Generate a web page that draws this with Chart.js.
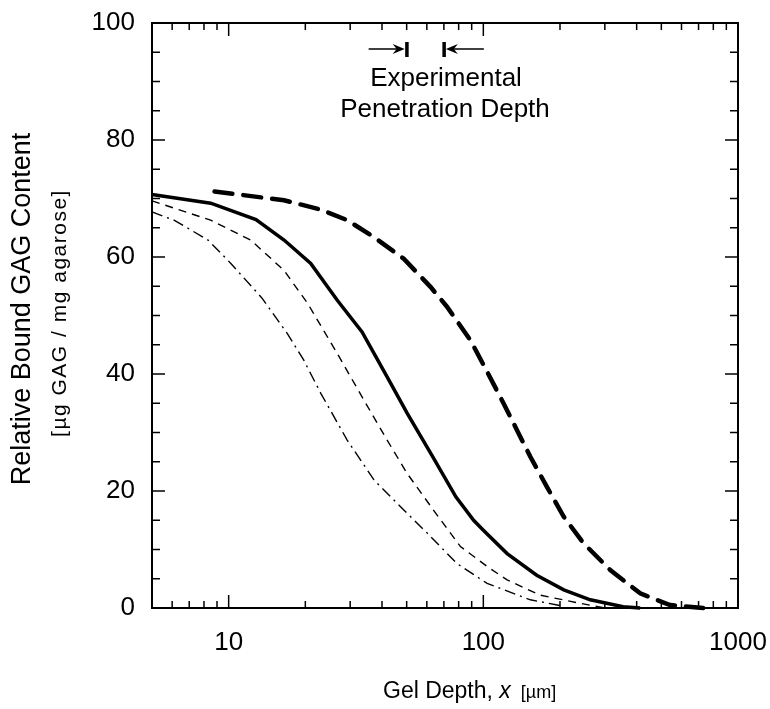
<!DOCTYPE html>
<html>
<head>
<meta charset="utf-8">
<script src="https://cdn.jsdelivr.net/npm/chart.js@4.4.1/dist/chart.umd.min.js"></script>
<style>
  html, body { margin: 0; padding: 0; background: #fff; }
  canvas { display: block; }
</style>
</head>
<body>
<canvas id="gagChart" width="770" height="709"></canvas>
<script>
// Bound GAG profiles vs gel depth (log x)

// thick solid curve
var solidX = [5, 8.5, 12.8, 16.5, 21, 26.7, 33.4, 41.9, 50.2, 63, 78, 91.6, 100, 124, 162, 207, 263, 354, 413];
var solidY = [70.7, 69.2, 66.4, 62.9, 58.9, 52.6, 47.2, 39.5, 33.3, 26, 19, 15.0, 13.3, 9.3, 5.6, 3.1, 1.4, 0.2, 0];

// thick dashed curve
var thickDashX = [8.8, 16.5, 23, 29.2, 37.2, 48.7, 62, 72, 88.9, 103.5, 120, 135.6, 152.8, 177.7, 207, 247, 315, 413, 541, 730];
var thickDashY = [71.2, 69.7, 68.1, 66.3, 63.4, 59.7, 54.9, 51.5, 45.8, 40.4, 35.0, 30.4, 25.9, 20.7, 15.6, 11.1, 6.5, 2.5, 0.5, 0];

// thin dashed curve
var thinDashX = [5, 8.5, 12.2, 16.5, 20.4, 26.7, 34, 41.9, 50.2, 63.8, 81.3, 103.5, 124, 167, 240, 300];
var thinDashY = [69.6, 66.3, 62.9, 57.7, 52.1, 43.5, 35.5, 28.7, 23.0, 16.7, 10.5, 7.1, 4.8, 2.2, 0.8, 0];

// dash-dot curve
var dashDotX = [5, 6.1, 8.3, 10.2, 13.5, 17, 19.7, 23, 29.2, 37.2, 47.3, 60.2, 78.8, 103.5, 153, 207];
var dashDotY = [67.7, 66.3, 62.9, 58.9, 53, 46.9, 42.4, 36.7, 28.7, 21.9, 17.3, 12.8, 7.6, 4.2, 1.4, 0.3];

var xTickValues = [10, 100, 1000];
var xRange = [5, 1000];
var yRange = [0, 100];
var penetrationDepth = [50, 70];

var FONT = '"Liberation Sans", Arial, sans-serif';

function toPoints(xs, ys) {
    var pts = [];
    for (var i = 0; i < xs.length; i++) {
        pts.push({ x: xs[i], y: ys[i] });
    }
    return pts;
}

function seg(ctx, x1, y1, x2, y2) {
    ctx.beginPath();
    ctx.moveTo(x1, y1);
    ctx.lineTo(x2, y2);
    ctx.stroke();
}

// frame + inward ticks on all four sides
var frameTicks = {
    id: 'frameTicks',
    afterDatasetsDraw: function(chart) {
        var ctx = chart.ctx;
        var a = chart.chartArea;
        var xs = chart.scales.x;
        var ys = chart.scales.y;
        ctx.save();
        ctx.strokeStyle = '#000';
        ctx.lineWidth = 1.5;

        for (var v = yRange[0]; v <= yRange[1]; v += 5) {
            var py = ys.getPixelForValue(v);
            var len = (v % 20 === 0) ? 13 : 8;
            seg(ctx, a.left, py, a.left + len, py);
            seg(ctx, a.right, py, a.right - len, py);
        }

        for (var k = 0; k <= 3; k++) {
            for (var m = 1; m <= 9; m++) {
                var val = m * Math.pow(10, k);
                if (val < xRange[0] || val > xRange[1]) continue;
                var px = xs.getPixelForValue(val);
                var l = (m === 1) ? 13 : 7;
                seg(ctx, px, a.bottom, px, a.bottom - l);
                seg(ctx, px, a.top, px, a.top + l);
            }
        }

        ctx.lineWidth = 2;
        ctx.strokeRect(a.left, a.top, a.right - a.left, a.bottom - a.top);
        ctx.restore();
    }
};

// axis titles and the penetration depth note
var labelsPlugin = {
    id: 'labelsPlugin',
    afterDraw: function(chart) {
        var ctx = chart.ctx;
        var xs = chart.scales.x;
        ctx.save();
        ctx.fillStyle = '#000';
        ctx.strokeStyle = '#000';

        // y title, two lines
        ctx.save();
        ctx.translate(23, 309);
        ctx.rotate(-Math.PI / 2);
        ctx.textAlign = 'center';
        ctx.textBaseline = 'middle';
        ctx.font = '27px ' + FONT;
        ctx.fillText('Relative Bound GAG Content', 0, 0);
        ctx.restore();

        ctx.save();
        ctx.translate(60, 313);
        ctx.rotate(-Math.PI / 2);
        ctx.textAlign = 'center';
        ctx.textBaseline = 'middle';
        ctx.font = '21px ' + FONT;
        try { ctx.letterSpacing = '1.5px'; } catch (e) {}
        ctx.fillText('[\u00b5g GAG / mg agarose]', 0, 0);
        ctx.restore();

        // x title
        ctx.textBaseline = 'alphabetic';
        ctx.textAlign = 'left';
        var tx = 383, ty = 698;
        ctx.font = '23px ' + FONT;
        ctx.fillText('Gel Depth, ', tx, ty);
        tx += ctx.measureText('Gel Depth, ').width;
        ctx.font = 'italic 23px ' + FONT;
        ctx.fillText('x', tx, ty);
        tx += ctx.measureText('x').width + 10;
        ctx.font = '18px ' + FONT;
        ctx.fillText('[\u00b5m]', tx, ty);

        // arrows around the experimental range
        var p1 = xs.getPixelForValue(penetrationDepth[0]);
        var p2 = xs.getPixelForValue(penetrationDepth[1]);
        var ay = 49;
        ctx.lineWidth = 1.5;
        seg(ctx, p1 - 38, ay, p1 - 6, ay);
        seg(ctx, p2 + 6, ay, p2 + 40, ay);
        ctx.beginPath();
        ctx.moveTo(p1 - 2, ay);
        ctx.lineTo(p1 - 14, ay - 5);
        ctx.lineTo(p1 - 10, ay);
        ctx.lineTo(p1 - 14, ay + 5);
        ctx.closePath();
        ctx.fill();
        ctx.beginPath();
        ctx.moveTo(p2 + 2, ay);
        ctx.lineTo(p2 + 14, ay - 5);
        ctx.lineTo(p2 + 10, ay);
        ctx.lineTo(p2 + 14, ay + 5);
        ctx.closePath();
        ctx.fill();
        ctx.fillRect(p1 - 1.5, ay - 7, 3.5, 15);
        ctx.fillRect(p2 - 1.5, ay - 7, 3.5, 15);

        ctx.textAlign = 'center';
        ctx.font = '26px ' + FONT;
        ctx.fillText('Experimental', 446, 86);
        ctx.fillText('Penetration Depth', 445, 117);
        ctx.restore();
    }
};

// drop the automatic label overflow padding so the plot box sits where the reference has it
function noScalePadding(scale) {
    scale.paddingLeft = 0;
    scale.paddingRight = 0;
    scale.paddingTop = 0;
    scale.paddingBottom = 0;
}

function initChart() {
    var canvas = document.getElementById('gagChart');
    var ctx = canvas.getContext('2d');

    new Chart(ctx, {
        type: 'line',
        data: {
            datasets: [
                {
                    data: toPoints(thickDashX, thickDashY),
                    borderColor: '#000',
                    borderWidth: 4.5,
                    borderDash: [18, 11],
                    borderCapStyle: 'round'
                },
                {
                    data: toPoints(solidX, solidY),
                    borderColor: '#000',
                    borderWidth: 3.5
                },
                {
                    data: toPoints(thinDashX, thinDashY),
                    borderColor: '#000',
                    borderWidth: 1.4,
                    borderDash: [8, 6]
                },
                {
                    data: toPoints(dashDotX, dashDotY),
                    borderColor: '#000',
                    borderWidth: 1.4,
                    borderDash: [11, 5, 2, 5]
                }
            ]
        },
        options: {
            responsive: false,
            animation: false,
            clip: false,
            layout: { padding: { left: 0, right: 32, top: 23, bottom: 0 } },
            elements: {
                point: { radius: 0 },
                line: { tension: 0, fill: false }
            },
            plugins: {
                legend: { display: false },
                tooltip: { enabled: false }
            },
            scales: {
                x: {
                    type: 'logarithmic',
                    min: xRange[0],
                    max: xRange[1],
                    grid: { display: false, drawTicks: false },
                    border: { display: false },
                    afterBuildTicks: function(scale) {
                        scale.ticks = xTickValues.map(function(v) { return { value: v }; });
                    },
                    afterFit: function(scale) {
                        scale.height = 101;
                        noScalePadding(scale);
                    },
                    ticks: {
                        color: '#000',
                        padding: 19,
                        maxRotation: 0,
                        autoSkip: false,
                        font: { family: FONT, size: 26 },
                        callback: function(value) { return String(value); }
                    }
                },
                y: {
                    min: yRange[0],
                    max: yRange[1],
                    grid: { display: false, drawTicks: false },
                    border: { display: false },
                    afterFit: function(scale) {
                        scale.width = 152;
                        noScalePadding(scale);
                    },
                    ticks: {
                        stepSize: 20,
                        color: '#000',
                        padding: 17,
                        font: { family: FONT, size: 26 }
                    }
                }
            }
        },
        plugins: [frameTicks, labelsPlugin]
    });
}

if (document.readyState === 'loading') {
    document.addEventListener('DOMContentLoaded', initChart);
} else {
    initChart();
}
</script>
</body>
</html>
